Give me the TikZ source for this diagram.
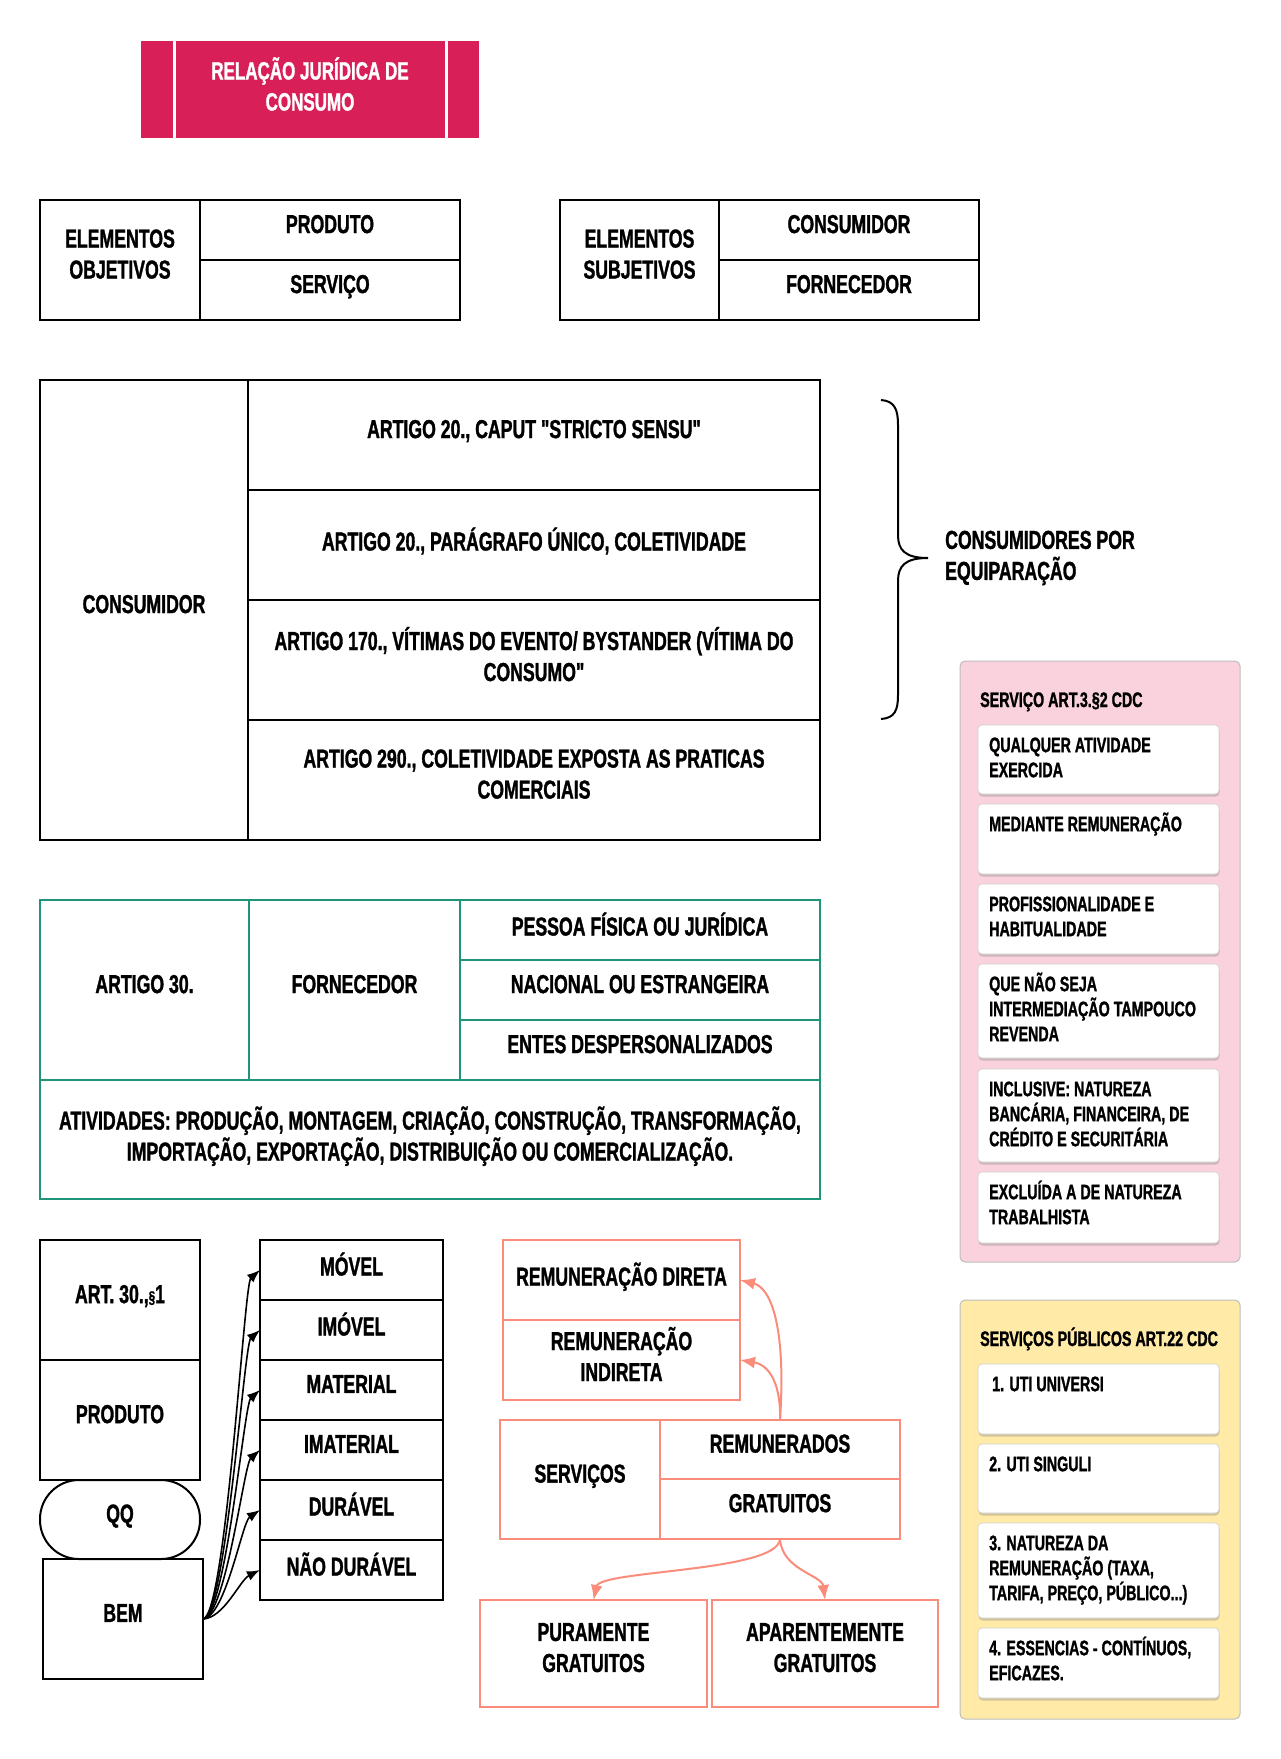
\documentclass[tikz,border=0pt]{standalone}
\usepackage{fontspec}
\setmainfont{Liberation Sans}[UprightFont=* Bold, BoldFont=* Bold, FakeStretch=0.68, FakeBold=1.2, Ligatures=TeXOff]
\usetikzlibrary{arrows.meta,shadows}
\definecolor{crim}{RGB}{216,31,87}
\definecolor{tealc}{RGB}{30,148,120}
\definecolor{salm}{RGB}{250,140,124}
\definecolor{pinkbg}{RGB}{249,210,221}
\definecolor{yelbg}{RGB}{255,234,168}
\definecolor{panelline}{RGB}{190,190,190}
\newcommand{\bigf}{\fontsize{26}{31}\selectfont}
\newcommand{\smf}{\fontsize{21}{25}\selectfont}
\begin{document}
\begin{tikzpicture}[x=1pt,y=-1pt,
 cell/.style={draw=black,line width=2pt,inner sep=0pt,outer sep=0pt,align=center,font=\bigf,anchor=north west,text depth=12pt},
 tcell/.style={cell,draw=tealc},
 scell/.style={cell,draw=salm},
 panel/.style={draw=panelline,line width=1pt,rounded corners=5pt,inner sep=0pt,outer sep=0pt,anchor=north west,minimum width=280pt},
 pitem/.style={fill=white,draw=panelline!70,line width=0.6pt,rounded corners=4pt,inner sep=0pt,outer sep=0pt,anchor=north west,minimum width=241pt,drop shadow={shadow xshift=0.5pt,shadow yshift=-2.5pt,opacity=0.35}},
 ptext/.style={font=\smf,align=left,inner sep=0pt,anchor=north west},
 blk/.style={line width=1.6pt,-{Latex[length=13pt,width=10pt]}},
 sal/.style={draw=salm,line width=2pt,-{Latex[length=15pt,width=12pt]}}
]
\fill[white] (0,0) rectangle (1280,1759);
\useasboundingbox (0,0) rectangle (1280,1759);

% title
\node[fill=crim,minimum width=338pt,minimum height=97pt,anchor=north west,inner sep=0pt,outer sep=0pt] (title) at (141,41) {};
\draw[white,line width=3pt] ([xshift=33pt]title.north west) -- ([xshift=33pt]title.south west);
\draw[white,line width=3pt] ([xshift=-33pt]title.north east) -- ([xshift=-33pt]title.south east);
\node[font=\fontsize{25}{31}\selectfont,text=white,align=center] (titletxt) at (310,84) {RELAÇÃO JURÍDICA DE\\CONSUMO};

% elementos objetivos / subjetivos
\node[cell,minimum width=160pt,minimum height=120pt] (eo) at (40,200) {ELEMENTOS\\OBJETIVOS};
\node[cell,minimum width=260pt,minimum height=60pt] (prod) at (200,200) {PRODUTO};
\node[cell,minimum width=260pt,minimum height=60pt] (serv) at (200,260) {SERVIÇO};
\node[cell,minimum width=159pt,minimum height=120pt] (es) at (560,200) {ELEMENTOS\\SUBJETIVOS};
\node[cell,minimum width=260pt,minimum height=60pt] (cons) at (719,200) {CONSUMIDOR};
\node[cell,minimum width=260pt,minimum height=60pt] (forn) at (719,260) {FORNECEDOR};

% consumidor table
\node[cell,minimum width=208pt,minimum height=460pt] (consum) at (40,380) {CONSUMIDOR};
\node[cell,minimum width=572pt,minimum height=110pt] (r1) at (248,380) {ARTIGO 20., CAPUT "STRICTO SENSU"};
\node[cell,minimum width=572pt,minimum height=110pt] (r2) at (248,490) {ARTIGO 20., PARÁGRAFO ÚNICO, COLETIVIDADE};
\node[cell,minimum width=572pt,minimum height=120pt] (r3) at (248,600) {ARTIGO 170., VÍTIMAS DO EVENTO/ BYSTANDER (VÍTIMA DO\\CONSUMO"};
\node[cell,minimum width=572pt,minimum height=120pt] (r4) at (248,720) {ARTIGO 290., COLETIVIDADE EXPOSTA AS PRATICAS\\COMERCIAIS};

% brace
\draw[line width=2pt] (881,400) .. controls (895,401) and (898,410) .. (898,425) -- (898,535)
  .. controls (898,550) and (905,558) .. (928,558)
  .. controls (905,558) and (898,566) .. (898,581) -- (898,695)
  .. controls (898,710) and (895,718) .. (881,719);
\node[font=\bigf,align=left,anchor=west,inner sep=0pt] (equip) at (945,558) {CONSUMIDORES POR\\EQUIPARAÇÃO};

% pink panel
\node[panel,fill=pinkbg,minimum height=601pt] (ppanel) at (960,661) {};
\node[font=\smf,anchor=base west,inner sep=0pt] (ptitle) at (980,707) {SERVIÇO ART.3.§2 CDC};
\node[pitem,minimum height=69pt] (p1) at (978,725) {};
\node[pitem,minimum height=70pt] (p2) at (978,804) {};
\node[pitem,minimum height=70pt] (p3) at (978,884) {};
\node[pitem,minimum height=94pt] (p4) at (978,964) {};
\node[pitem,minimum height=93pt] (p5) at (978,1069) {};
\node[pitem,minimum height=71pt] (p6) at (978,1172) {};
\node[ptext] (p1t) at ([xshift=11pt]p1.north west) {\rule{0pt}{27pt}QUALQUER ATIVIDADE\\EXERCIDA};
\node[ptext] (p2t) at ([xshift=11pt]p2.north west) {\rule{0pt}{27pt}MEDIANTE REMUNERAÇÃO};
\node[ptext] (p3t) at ([xshift=11pt]p3.north west) {\rule{0pt}{27pt}PROFISSIONALIDADE E\\HABITUALIDADE};
\node[ptext] (p4t) at ([xshift=11pt]p4.north west) {\rule{0pt}{27pt}QUE NÃO SEJA\\INTERMEDIAÇÃO TAMPOUCO\\REVENDA};
\node[ptext] (p5t) at ([xshift=11pt]p5.north west) {\rule{0pt}{27pt}INCLUSIVE: NATUREZA\\BANCÁRIA, FINANCEIRA, DE\\CRÉDITO E SECURITÁRIA};
\node[ptext] (p6t) at ([xshift=11pt]p6.north west) {\rule{0pt}{27pt}EXCLUÍDA A DE NATUREZA\\TRABALHISTA};

% yellow panel
\node[panel,fill=yelbg,minimum height=419pt] (ypanel) at (960,1300) {};
\node[font=\smf,anchor=base west,inner sep=0pt] (ytitle) at (980,1346) {SERVIÇOS PÚBLICOS ART.22 CDC};
\node[pitem,minimum height=70pt] (y1) at (978,1364) {};
\node[pitem,minimum height=69pt] (y2) at (978,1444) {};
\node[pitem,minimum height=95pt] (y3) at (978,1523) {};
\node[pitem,minimum height=70pt] (y4) at (978,1628) {};
\node[ptext] (y1t) at ([xshift=14pt]y1.north west) {\rule{0pt}{27pt}1. UTI UNIVERSI};
\node[ptext] (y2t) at ([xshift=11pt]y2.north west) {\rule{0pt}{27pt}2. UTI SINGULI};
\node[ptext] (y3t) at ([xshift=11pt]y3.north west) {\rule{0pt}{27pt}3. NATUREZA DA\\REMUNERAÇÃO (TAXA,\\TARIFA, PREÇO, PÚBLICO...)};
\node[ptext] (y4t) at ([xshift=11pt]y4.north west) {\rule{0pt}{27pt}4. ESSENCIAS - CONTÍNUOS,\\EFICAZES.};

% fornecedor table
\node[tcell,minimum width=209pt,minimum height=180pt] (fa) at (40,900) {ARTIGO 30.};
\node[tcell,minimum width=211pt,minimum height=180pt] (fb) at (249,900) {FORNECEDOR};
\node[tcell,minimum width=360pt,minimum height=60pt] (fc1) at (460,900) {PESSOA FÍSICA OU JURÍDICA};
\node[tcell,minimum width=360pt,minimum height=60pt] (fc2) at (460,960) {NACIONAL OU ESTRANGEIRA};
\node[tcell,minimum width=360pt,minimum height=60pt] (fc3) at (460,1020) {ENTES DESPERSONALIZADOS};
\node[tcell,minimum width=780pt,minimum height=119pt] (fd) at (40,1080) {ATIVIDADES: PRODUÇÃO, MONTAGEM, CRIAÇÃO, CONSTRUÇÃO, TRANSFORMAÇÃO,\\IMPORTAÇÃO, EXPORTAÇÃO, DISTRIBUIÇÃO OU COMERCIALIZAÇÃO.};

% produto / bem
\node[cell,minimum width=160pt,minimum height=120pt] (art) at (40,1240) {ART. 30.,{\fontsize{17}{17}\selectfont§}1};
\node[cell,minimum width=160pt,minimum height=120pt] (bprod) at (40,1360) {PRODUTO};
\node[cell,minimum width=160pt,minimum height=79pt,rounded corners=39pt] (qq) at (40,1480) {QQ};
\node[cell,minimum width=160pt,minimum height=120pt] (bem) at (43,1559) {BEM};
\node[cell,minimum width=183pt,minimum height=60pt] (l1) at (260,1240) {MÓVEL};
\node[cell,minimum width=183pt,minimum height=60pt] (l2) at (260,1300) {IMÓVEL};
\node[cell,minimum width=183pt,minimum height=60pt] (l3) at (260,1360) {MATERIAL};
\node[cell,minimum width=183pt,minimum height=60pt] (l4) at (260,1420) {IMATERIAL};
\node[cell,minimum width=183pt,minimum height=60pt] (l5) at (260,1480) {DURÁVEL};
\node[cell,minimum width=183pt,minimum height=60pt] (l6) at (260,1540) {NÃO DURÁVEL};
\draw[blk] (bem.east) .. controls (226,1616) and (244,1284) .. (l1.west);
\draw[blk] (bem.east) .. controls (226,1616) and (244,1344) .. (l2.west);
\draw[blk] (bem.east) .. controls (226,1616) and (244,1404) .. (l3.west);
\draw[blk] (bem.east) .. controls (226,1616) and (244,1464) .. (l4.west);
\draw[blk] (bem.east) .. controls (226,1616) and (242,1522) .. (l5.west);
\draw[blk] (bem.east) .. controls (224,1618) and (240,1580) .. (l6.west);

% servicos (salmon)
\node[scell,minimum width=237pt,minimum height=80pt] (dir) at (503,1240) {REMUNERAÇÃO DIRETA};
\node[scell,minimum width=237pt,minimum height=80pt] (ind) at (503,1320) {REMUNERAÇÃO\\INDIRETA};
\node[scell,minimum width=160pt,minimum height=119pt] (sserv) at (500,1420) {SERVIÇOS};
\node[scell,minimum width=240pt,minimum height=59pt] (rem) at (660,1420) {REMUNERADOS};
\node[scell,minimum width=240pt,minimum height=60pt] (grat) at (660,1479) {GRATUITOS};
\node[scell,minimum width=227pt,minimum height=107pt] (pur) at (480,1600) {PURAMENTE\\GRATUITOS};
\node[scell,minimum width=226pt,minimum height=107pt] (apa) at (712,1600) {APARENTEMENTE\\GRATUITOS};
\draw[sal] (rem.north) .. controls (786,1330) and (772,1288) .. (dir.east);
\draw[sal] (rem.north) .. controls (781,1385) and (770,1365) .. (ind.east);
\draw[sal] (grat.south) .. controls (778,1572) and (600,1570) .. (pur.north);
\draw[sal] (grat.south) .. controls (782,1570) and (822,1575) .. (apa.north);
\end{tikzpicture}
\end{document}
